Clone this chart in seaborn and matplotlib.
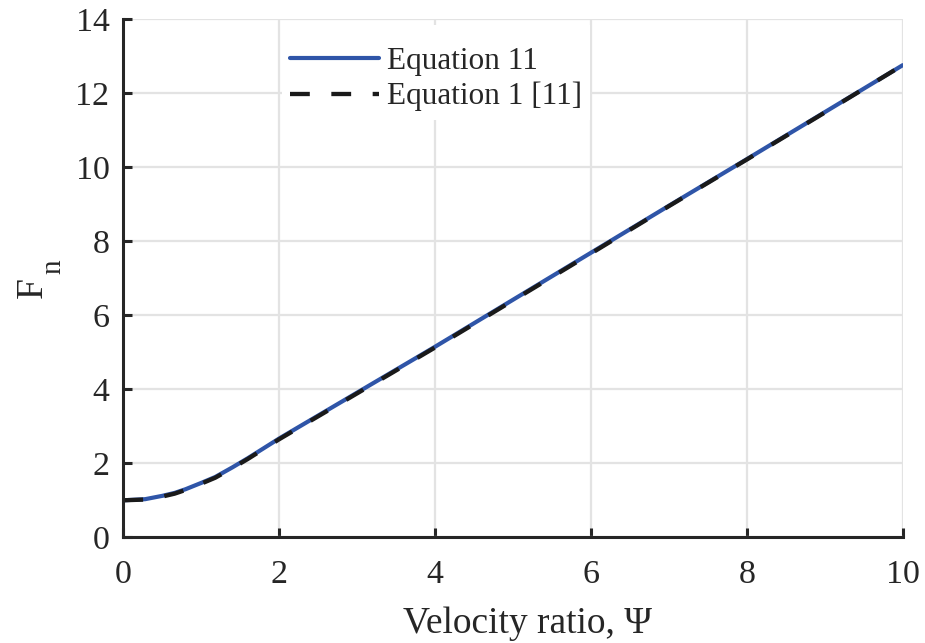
import matplotlib
matplotlib.use("Agg")
import matplotlib.pyplot as plt
import seaborn as sns
import pandas as pd

# ---- data ----
psi_eq11 = [0.0, 0.28, 0.5, 0.66, 0.8, 1.0, 1.18, 1.4, 1.6, 2.0, 2.5, 3.0, 4.0, 5.0, 6.0, 7.0, 8.0, 9.0, 10.0]
fn_eq11 = [1.00, 1.03, 1.12, 1.20, 1.30, 1.47, 1.63, 1.89, 2.14, 2.67, 3.29, 3.91, 5.15, 6.42, 7.69, 8.96, 10.22, 11.49, 12.76]

psi_eq1 = [0.0, 0.28, 0.5, 0.66, 0.8, 1.0, 1.18, 1.4, 1.6, 2.0, 2.5, 3.0, 4.0, 5.0, 6.0, 7.0, 8.0, 9.0, 10.0]
fn_eq1 = [1.00, 1.02, 1.10, 1.18, 1.28, 1.45, 1.61, 1.87, 2.12, 2.65, 3.27, 3.89, 5.13, 6.40, 7.67, 8.95, 10.21, 11.48, 12.76]

label_eq11 = "Equation 11"
label_eq1 = "Equation 1 [11]"
x_ticks = [0, 2, 4, 6, 8, 10]
y_ticks = [0, 2, 4, 6, 8, 10, 12, 14]

df11 = pd.DataFrame({"psi": psi_eq11, "fn": fn_eq11})
df1 = pd.DataFrame({"psi": psi_eq1, "fn": fn_eq1})

sns.set_theme(style="white")
plt.rcParams["font.family"] = ["Liberation Serif", "DejaVu Serif"]
plt.rcParams["axes.unicode_minus"] = False

fig = plt.figure(figsize=(9.25, 6.43), dpi=100)
ax = fig.add_axes([0.1333, 0.1644, 0.8426, 0.8056])

sns.lineplot(data=df11, x="psi", y="fn", ax=ax, color="#2F55A8", linewidth=3.0,
             label=label_eq11, sort=False)
sns.lineplot(data=df1, x="psi", y="fn", ax=ax, color="#1A1A1A", linewidth=3.1,
             linestyle=(0, (4.6, 5.0)), label=label_eq1, sort=False)

ax.set_xlim(0, 10)
ax.set_ylim(0, 14)
ax.set_xticks(x_ticks)
ax.set_yticks(y_ticks)
ax.set_xticklabels([str(v) for v in x_ticks])
ax.set_yticklabels([str(v) for v in y_ticks])

ax.grid(True, color="#E3E3E3", linewidth=1.6)
ax.set_axisbelow(True)
for s in ["top", "right"]:
    ax.spines[s].set_visible(False)
for s in ["left", "bottom"]:
    ax.spines[s].set_color("#262626")
    ax.spines[s].set_linewidth(2.2)
    ax.spines[s].set_zorder(5)

ax.tick_params(axis="both", which="major", direction="in", length=6.5, width=2.2,
               color="#262626", labelsize=24.5, labelcolor="#262626",
               bottom=True, left=True, top=False, right=False)
ax.tick_params(axis="x", pad=16)
ax.tick_params(axis="y", pad=10)

ax.set_xlabel("Velocity ratio, \u03a8", fontsize=27, color="#262626", va="baseline")
ax.xaxis.set_label_coords(0.518, -0.1853)

ax.set_ylabel("F", fontsize=27, color="#262626", va="baseline")
ax.yaxis.set_label_coords(-0.1043, 0.4822)
ax.text(-0.0812, 0.5228, "n", transform=ax.transAxes, fontsize=21, color="#262626",
        rotation=90, rotation_mode="anchor", ha="center", va="baseline")

leg = ax.legend(loc="upper left", bbox_to_anchor=(0.2036, 0.989), borderaxespad=0,
                fontsize=22.5, frameon=True, fancybox=False, framealpha=1,
                facecolor="white", edgecolor="none", handlelength=2.85,
                handletextpad=0.25, borderpad=0.26, labelspacing=0.19,
                title=" ", title_fontsize=5.8)
for t in leg.get_texts():
    t.set_color("#262626")

fig.savefig("out.png", dpi=100)
